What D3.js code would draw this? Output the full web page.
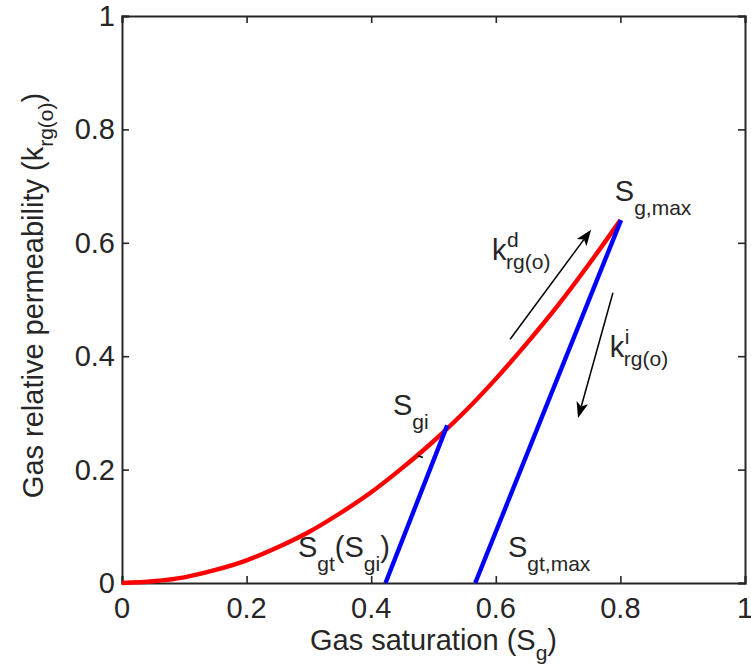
<!DOCTYPE html>
<html>
<head>
<meta charset="utf-8">
<script src="https://cdn.jsdelivr.net/npm/d3@7"></script>
<style>
  html, body { margin: 0; padding: 0; background: #fff; }
  svg { display: block; }
  text { font-family: "Liberation Sans", Arial, Helvetica, sans-serif; fill: #262626; }
</style>
</head>
<body>
<div id="chart"></div>
<script>
// ---------- data ----------
const xTicks = [0, 0.2, 0.4, 0.6, 0.8, 1];
const yTicks = [0, 0.2, 0.4, 0.6, 0.8, 1];
const xTickLabels = ["0", "0.2", "0.4", "0.6", "0.8", "1"];
const yTickLabels = ["0", "0.2", "0.4", "0.6", "0.8", "1"];

// drainage curve (red)
const drainSg  = [0, 0.05, 0.10, 0.15, 0.20, 0.25, 0.30, 0.35, 0.40, 0.45, 0.50, 0.55, 0.60, 0.65, 0.70, 0.75, 0.80];
const drainKrg = [0, 0.003, 0.010, 0.023, 0.040, 0.063, 0.090, 0.123, 0.160, 0.203, 0.250, 0.302, 0.360, 0.423, 0.490, 0.563, 0.640];

// imbibition scanning lines (blue)
const imbib1Sg  = [0.423, 0.522];
const imbib1Krg = [0, 0.278];
const imbib2Sg  = [0.567, 0.801];
const imbib2Krg = [0, 0.640];

// arrows (data coordinates: from -> to)
const arrowD = [[0.623, 0.430], [0.753, 0.623]];
const arrowI = [[0.788, 0.512], [0.732, 0.291]];
// tiny stray mark on the red curve
const strayMark = [[0.475, 0.2245], [0.483, 0.2215]];

// ---------- layout ----------
const W = 751, H = 668;
const margin = { left: 122, right: 6, top: 16, bottom: 85 };
const x = d3.scaleLinear().domain([0, 1]).range([margin.left, W - margin.right]);
const y = d3.scaleLinear().domain([0, 1]).range([H - margin.bottom, margin.top]);

const svg = d3.select("#chart").append("svg").attr("width", W).attr("height", H);
svg.append("rect").attr("width", W).attr("height", H).attr("fill", "#fff");

const axisColor = "#262626";
const FS = 29, SUB = 21;

// axes (box with inward ticks)
const tickLen = 7;
const gx = svg.append("g").attr("transform", `translate(0,${y(0)})`)
  .call(d3.axisBottom(x).tickValues(xTicks).tickSize(-tickLen).tickPadding(0).tickFormat(""));
const gxt = svg.append("g").attr("transform", `translate(0,${y(1)})`)
  .call(d3.axisTop(x).tickValues(xTicks).tickSize(-tickLen).tickFormat(""));
const gy = svg.append("g").attr("transform", `translate(${x(0)},0)`)
  .call(d3.axisLeft(y).tickValues(yTicks).tickSize(-tickLen).tickFormat(""));
const gyr = svg.append("g").attr("transform", `translate(${x(1)},0)`)
  .call(d3.axisRight(y).tickValues(yTicks).tickSize(-tickLen).tickFormat(""));
[gx, gxt, gy, gyr].forEach(g => {
  g.selectAll(".domain").attr("stroke", axisColor).attr("stroke-width", 2);
  g.selectAll(".tick line").attr("stroke", axisColor).attr("stroke-width", 1.6);
});

// tick labels
svg.append("g").selectAll("text").data(xTicks).join("text")
  .attr("x", d => x(d)).attr("y", y(0) + 35)
  .attr("text-anchor", "middle").attr("font-size", FS)
  .text((d, i) => xTickLabels[i]);
svg.append("g").selectAll("text").data(yTicks).join("text")
  .attr("x", x(0) - 7).attr("y", d => y(d) + 10)
  .attr("text-anchor", "end").attr("font-size", FS)
  .text((d, i) => yTickLabels[i]);

// axis titles
const xt = svg.append("text").attr("x", (x(0) + x(1)) / 2).attr("y", 650)
  .attr("text-anchor", "middle").attr("font-size", FS);
xt.append("tspan").text("Gas saturation (S");
xt.append("tspan").attr("font-size", SUB).attr("dy", 10).text("g");
xt.append("tspan").attr("dy", -10).text(")");

const yt = svg.append("text")
  .attr("transform", `translate(43,${(y(0) + y(1)) / 2 - 4}) rotate(-90)`)
  .attr("text-anchor", "middle").attr("font-size", FS);
yt.append("tspan").text("Gas relative permeability (k");
yt.append("tspan").attr("font-size", SUB).attr("dy", 10).text("rg(o)");
yt.append("tspan").attr("dy", -10).text(")");

// curves
const line = d3.line().x(d => x(d[0])).y(d => y(d[1]));
const drain = drainSg.map((s, i) => [s, drainKrg[i]]);
svg.append("path").datum(drain)
  .attr("d", line.curve(d3.curveMonotoneX))
  .attr("fill", "none").attr("stroke", "#ff0000").attr("stroke-width", 4.4);

const straight = d3.line().x(d => x(d[0])).y(d => y(d[1]));
svg.append("path").datum(strayMark).attr("d", straight)
  .attr("fill", "none").attr("stroke", "#000").attr("stroke-width", 1.6);
[[imbib1Sg, imbib1Krg], [imbib2Sg, imbib2Krg]].forEach(([s, k]) => {
  svg.append("path").datum(s.map((v, i) => [v, k[i]]))
    .attr("d", straight)
    .attr("fill", "none").attr("stroke", "#0000ff").attr("stroke-width", 4.4);
});

// arrows
function arrow(pts) {
  const [p0, p1] = pts;
  const x0 = x(p0[0]), y0 = y(p0[1]), x1 = x(p1[0]), y1 = y(p1[1]);
  const ang = Math.atan2(y1 - y0, x1 - x0);
  const L = 16, Wd = 6;
  const bx = x1 - L * Math.cos(ang), by = y1 - L * Math.sin(ang);
  const back = 4;
  const cx = x1 - (L - back) * Math.cos(ang), cy = y1 - (L - back) * Math.sin(ang);
  svg.append("line").attr("x1", x0).attr("y1", y0).attr("x2", cx).attr("y2", cy)
    .attr("stroke", "#000").attr("stroke-width", 1.5);
  const nx = -Math.sin(ang), ny = Math.cos(ang);
  svg.append("path")
    .attr("d", `M${x1},${y1} L${bx + nx * Wd},${by + ny * Wd} L${cx},${cy} L${bx - nx * Wd},${by - ny * Wd} Z`)
    .attr("fill", "#000");
}
arrow(arrowD);
arrow(arrowI);

// annotations
function label(px, py, parts) {
  const t = svg.append("text").attr("x", x(px)).attr("y", y(py)).attr("font-size", FS);
  let cur = 0;
  parts.forEach(([txt, shift]) => {
    const ts = t.append("tspan").text(txt);
    const dy = shift - cur;
    if (dy !== 0) ts.attr("dy", dy);
    if (shift !== 0) ts.attr("font-size", SUB);
    cur = shift;
  });
  return t;
}
label(0.791, 0.674, [["S", 0], ["g,max", 14]]);
label(0.435, 0.296, [["S", 0], ["gi", 14]]);
label(0.2825, 0.046, [["S", 0], ["gt", 14], ["(S", 0], ["gi", 14], [")", 0]]);
label(0.6196, 0.046, [["S", 0], ["gt,max", 14]]);

function kLabel(px, py, sup) {
  const X = x(px), Y = y(py);
  svg.append("text").attr("x", X).attr("y", Y).attr("font-size", FS).text("k");
  svg.append("text").attr("x", X + 15).attr("y", Y - 13).attr("font-size", SUB).text(sup);
  svg.append("text").attr("x", X + 14).attr("y", Y + 9).attr("font-size", SUB).text("rg(o)");
}
kLabel(0.594, 0.570, "d");
kLabel(0.783, 0.399, "i");
</script>
</body>
</html>
